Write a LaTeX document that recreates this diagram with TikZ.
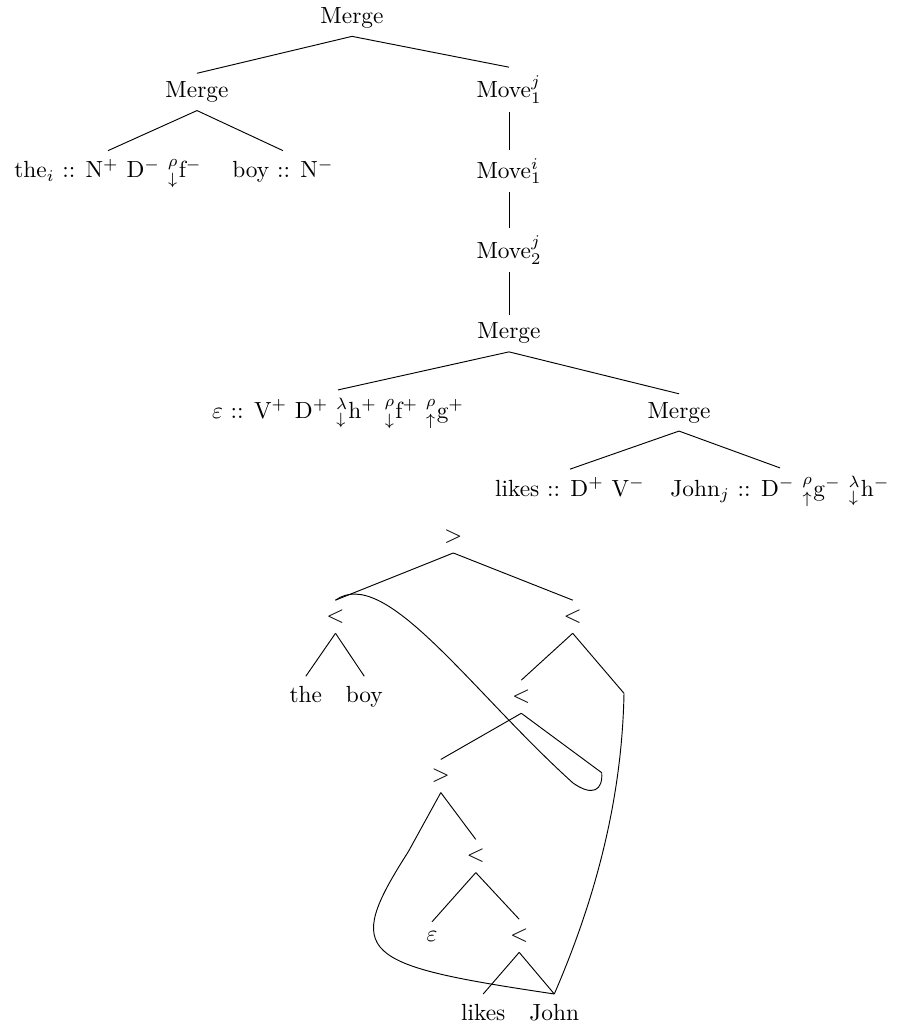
\documentclass[tikz,border=0pt]{standalone}
\usepackage{amsmath,amssymb}
\usepackage{tikz}
\tikzset{
  deriv/.style={anchor=base},            % nodes of the derivation tree
  dtree/.style={inner sep=4pt},          % nodes of the derived tree
  link/.style={line width=0.4pt}
}
\tikzset{every path/.style={link}}

\begin{document}
\begin{tikzpicture}[x=0.428pt, y=-0.428pt]
    \useasboundingbox (0,0) rectangle (904,1029);

    % Derivation tree
    \node[deriv] (mTop)  at (352,23.3)  {Merge};
    \node[deriv] (mL)    at (197,97.5)  {Merge};
    \node[deriv] (mvA)   at (509,97.5)  {Move$^j_1$};
    \node[deriv] (the)   at (108,177.5) {the$_i$ :: N$^+$ D$^-$ $^\rho_\downarrow$f$^-$};
    \node[deriv] (boy)   at (283,177.5) {boy :: N$^-$};
    \node[deriv] (mvB)   at (509,178)   {Move$^i_1$};
    \node[deriv] (mvC)   at (509,258)   {Move$^j_2$};
    \node[deriv] (mC)    at (509,338.8) {Merge};
    \node[deriv] (eps)   at (338,418)   {$\varepsilon$ :: V$^+$ D$^+$ $^\lambda_\downarrow$h$^+$ $^\rho_\downarrow$f$^+$ $^\rho_\uparrow$g$^+$};
    \node[deriv] (mR)    at (679,418)   {Merge};
    \node[deriv] (likes) at (570,496)   {likes :: D$^+$ V$^-$};
    \node[deriv] (john)  at (780,496)   {John$_j$ :: D$^-$ $^\rho_\uparrow$g$^-$ $^\lambda_\downarrow$h$^-$};

    \draw (mTop.south) -- (mL.north);
    \draw (mTop.south) -- (mvA.north);
    \draw (mL.south) -- (the.north);
    \draw (mL.south) -- (boy.north);
    \draw (mvA.south) -- (mvB.north);
    \draw (mvB.south) -- (mvC.north);
    \draw (mvC.south) -- (mC.north);
    \draw (mC.south) -- (eps.north);
    \draw (mC.south) -- (mR.north);
    \draw (mR.south) -- (likes.north);
    \draw (mR.south) -- (john.north);

    % Derived tree
    \node[dtree] (gA) at (453.3,536.4) {$>$};
    \node[dtree] (lA) at (335.5,616.7) {$<$};
    \node[dtree] (lB) at (572.7,616.7) {$<$};
    \node[dtree, anchor=base] (wThe) at (305.8,702.3) {the};
    \node[dtree, anchor=base] (wBoy) at (364.3,702.3) {boy};
    \node[dtree] (lC) at (521.3,696.7) {$<$};
    \coordinate (tA) at (624,693.3);
    \node[dtree] (gB) at (440.8,776) {$>$};
    \coordinate (tB) at (601.7,772.7);
    \coordinate (tC) at (408.3,851.7);
    \node[dtree] (lD) at (475.8,856) {$<$};
    \node[dtree, anchor=base] (wEps) at (432,941.7) {$\varepsilon$};
    \node[dtree] (lE) at (519.2,935.8) {$<$};
    \node[dtree, anchor=base] (wLikes) at (483.2,1020) {likes};
    \node[dtree, anchor=base] (wJohn) at (554.3,1020) {John};

    \draw (gA.south) -- (lA.north);
    \draw (gA.south) -- (lB.north);
    \draw (lA.south) -- (wThe.north);
    \draw (lA.south) -- (wBoy.north);
    \draw (lB.south) -- (lC.north);
    \draw (lB.south) -- (tA);
    \draw (lC.south) -- (gB.north);
    \draw (lC.south) -- (tB);
    \draw (gB.south) -- (tC);
    \draw (gB.south) -- (lD.north);
    \draw (lD.south) -- (wEps.north);
    \draw (lD.south) -- (lE.north);
    \draw (lE.south) -- (wLikes.north);
    \draw (lE.south) -- (wJohn.north);

    % movement chains
    \draw (tB) .. controls (603,790) and (593,797) .. (573,783)
      .. controls (470,690) and (385,565) .. (lA.north);
    \draw (tA) .. controls (622,800) and (595,900) .. (wJohn.north);
    \draw (tC) .. controls (342,955) and (360,965) .. (wJohn.north);
\end{tikzpicture}
\end{document}
